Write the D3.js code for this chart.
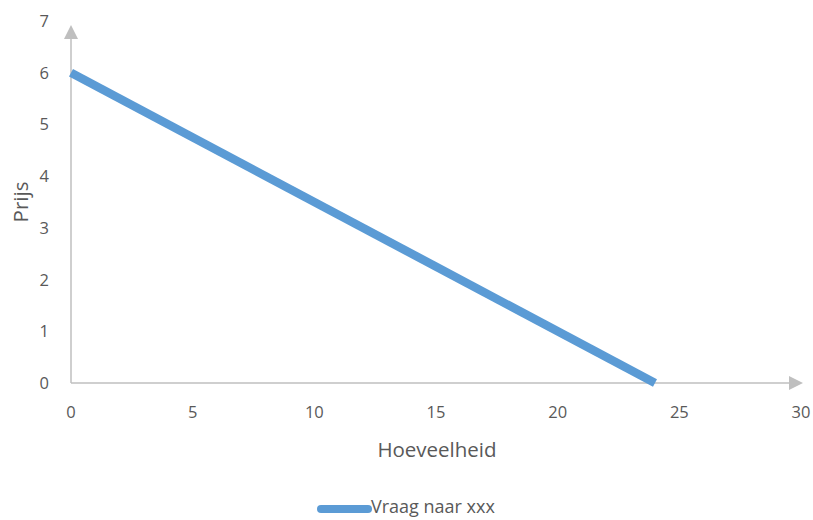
<!DOCTYPE html>
<html><head><meta charset="utf-8">
<script src="https://cdn.jsdelivr.net/npm/d3@7"></script>
<style>body{margin:0;background:#fff}text{font-family:"Open Sans",sans-serif;fill:#595959}</style>
</head><body><svg id="c" width="813" height="520"></svg>
<script>
const quantities = [0, 24];
const prices = [6, 0];
const xTicks = [0, 5, 10, 15, 20, 25, 30];
const yTicks = [0, 1, 2, 3, 4, 5, 6, 7];
const seriesName = "Vraag naar xxx";
const xTitle = "Hoeveelheid";
const yTitle = "Prijs";

const svg = d3.select("#c");
const x = d3.scaleLinear().domain([0, 30]).range([71, 801]);
const y = d3.scaleLinear().domain([0, 7]).range([383, 21]);
const axisCol = "#bfbfbf";

// axes lines
svg.append("line").attr("x1", x(0)).attr("x2", x(30) - 8).attr("y1", y(0)).attr("y2", y(0)).attr("stroke", axisCol).attr("stroke-width", 1.5);
svg.append("path").attr("d", `M${x(30)+2},${y(0)} l-14,-7 l0,14 z`).attr("fill", axisCol);
svg.append("line").attr("x1", x(0)).attr("x2", x(0)).attr("y1", y(0)).attr("y2", y(7) + 12).attr("stroke", axisCol).attr("stroke-width", 1.5);
svg.append("path").attr("d", `M${x(0)},${y(7)+4} l-7,14 l14,0 z`).attr("fill", axisCol);

// tick labels
svg.selectAll(".xt").data(xTicks).enter().append("text")
  .attr("x", d => x(d)).attr("y", y(0) + 35).attr("text-anchor", "middle").attr("font-size", 16.5).text(d => d);
svg.selectAll(".yt").data(yTicks).enter().append("text")
  .attr("x", 49).attr("y", d => y(d) + 6).attr("text-anchor", "end").attr("font-size", 16.5).text(d => d);

// titles
svg.append("text").attr("x", 437).attr("y", 457).attr("text-anchor", "middle").attr("font-size", 20.5).text(xTitle);
svg.append("text").attr("transform", "translate(28,202) rotate(-90)").attr("text-anchor", "middle").attr("font-size", 20.5).text(yTitle);

// series
const pts = quantities.map((q, i) => [q, prices[i]]);
svg.append("path").datum(pts)
  .attr("d", d3.line().x(d => x(d[0])).y(d => y(d[1])))
  .attr("fill", "none").attr("stroke", "#5b9bd5").attr("stroke-width", 8.5);

// legend
svg.append("line").attr("x1", 321).attr("x2", 368).attr("y1", 509).attr("y2", 509)
  .attr("stroke", "#5b9bd5").attr("stroke-width", 8).attr("stroke-linecap", "round");
svg.append("text").attr("x", 371).attr("y", 513).attr("font-size", 18).text(seriesName);
</script></body></html>
